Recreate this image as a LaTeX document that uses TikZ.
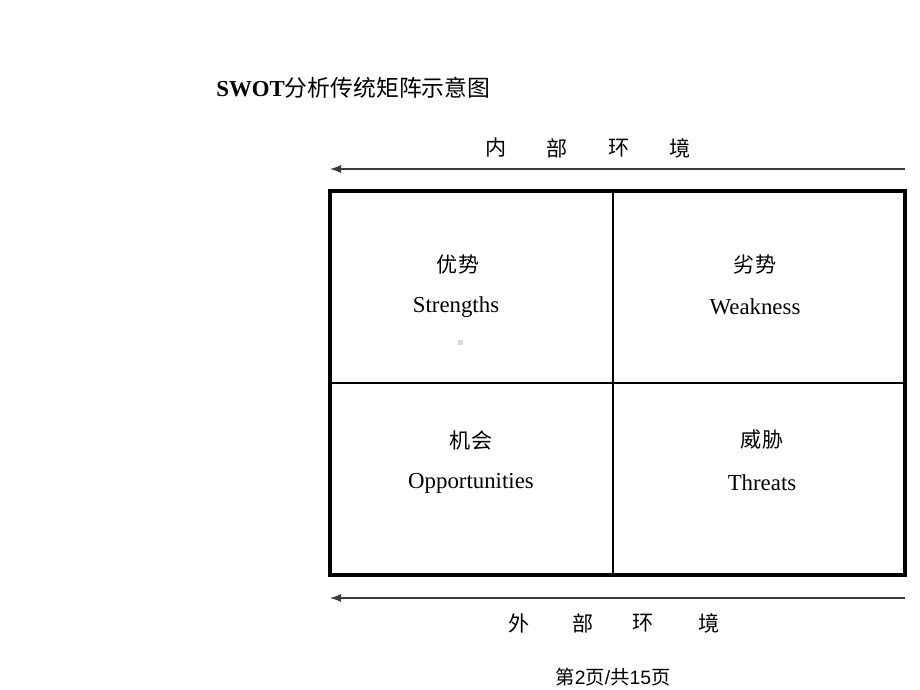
\documentclass[tikz,border=0pt]{standalone}
\usepackage{fontspec}
\setmainfont{Liberation Serif}
\newfontfamily\cjk{Noto Sans CJK SC}
\newfontfamily\foot{Liberation Sans}
\usepackage{xcolor}
\usepackage{tikz}
\usetikzlibrary{arrows.meta,positioning}
\definecolor{ink}{HTML}{000000}
\definecolor{axis}{HTML}{3C3C3C}
\definecolor{speck}{HTML}{D9D9D9}
\tikzset{
  frame/.style={draw=ink, line width=1.8pt},
  divide/.style={draw=ink, line width=0.7pt},
  env/.style={draw=axis, line width=0.6pt, -{Latex[length=2.2mm,width=1.6mm]}},
  cn/.style={text=ink, font=\cjk\fontsize{12}{14}\selectfont, inner sep=0pt},
  en/.style={text=ink, font=\fontsize{13}{15}\selectfont, inner sep=0pt},
}

\begin{document}
\begin{tikzpicture}[x=0.02cm, y=-0.02cm]
\useasboundingbox (0,0) rectangle (920,690);

% title
\node[anchor=west, inner sep=0pt] (title) at (216,88)
  {\fontsize{13}{15}\selectfont\bfseries SWOT{\cjk\mdseries 分析传统矩阵示意图}};

% matrix frame
\coordinate (nw) at (330,191);
\coordinate (se) at (905,575);
\coordinate (ct) at (613,191);
\coordinate (cb) at (613,575);
\coordinate (ml) at (330,383);
\coordinate (mr) at (905,383);
\draw[divide] (ct) -- (cb);
\draw[divide] (ml) -- (mr);
\draw[frame] (nw) rectangle (se);

% quadrants
\node[cn] (s1) at (458,264) {优势};
\node[en] (s2) at (456,307) {Strengths};
\node[cn] (w1) at (755,264) {劣势};
\node[en] (w2) at (755,307) {Weakness};
\node[cn] (o1) at (471,440) {机会};
\node[en] (o2) at (471,483) {Opportunities};
\node[cn] (t1) at (762,440) {威胁};
\node[en] (t2) at (762,483) {Threats};
\fill[speck] (457.5,339.5) rectangle (463,345);

% inner environment
\coordinate (inR) at (905,169);
\coordinate (inL) at (330,169);
\draw[env] (inR) -- (inL);
\foreach \x/\c [count=\i] in {496/内,557/部,619/环,680/境}
  \node[cn] (in\i) at (\x,148) {\c};

% outer environment
\coordinate (outR) at (905,598);
\coordinate (outL) at (330,598);
\draw[env] (outR) -- (outL);
\foreach \x/\c [count=\i] in {519/外,583/部,643/环,709/境}
  \node[cn] (out\i) at (\x,623) {\c};

% page number
\node[inner sep=0pt, font=\fontsize{11}{13}\selectfont] (page) at (613,677)
  {{\cjk 第}{\foot 2}{\cjk 页}{\foot /}{\cjk 共}{\foot 15}{\cjk 页}};
\end{tikzpicture}
\end{document}
